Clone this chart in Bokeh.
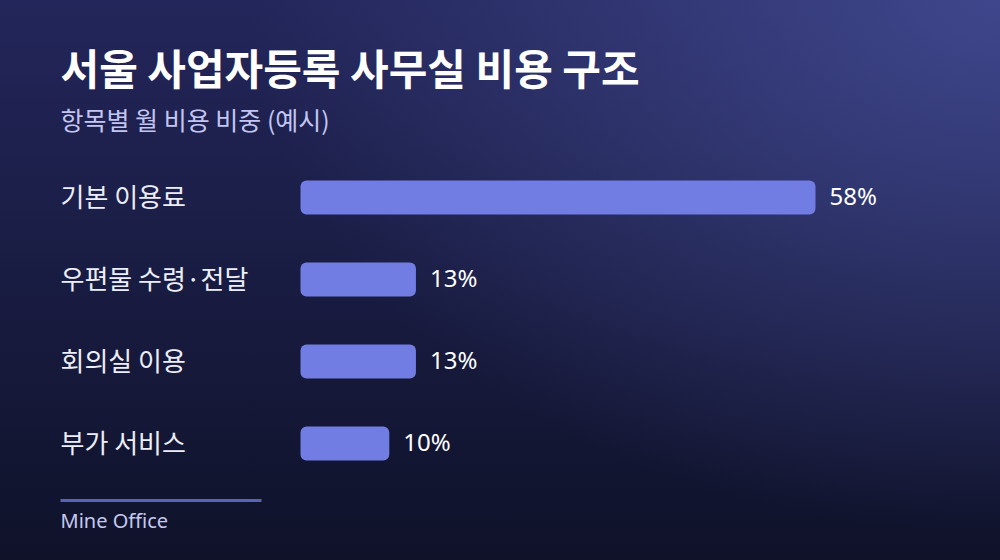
from bokeh.plotting import figure
from bokeh.models import Range1d, Label, BoxAnnotation, ColumnDataSource
from bokeh.core.properties import value
from bokeh.embed import file_html
from bokeh.resources import INLINE

# ---- data ----
categories = ["기본 이용료", "우편물 수령·전달", "회의실 이용", "부가 서비스"]
shares = [58, 13, 13, 10]
value_labels = ["58%", "13%", "13%", "10%"]
title_text = "서울 사업자등록 사무실 비용 구조"
subtitle_text = "항목별 월 비용 비중 (예시)"
source_text = "Mine Office"

# ---- layout ----
W, H = 984, 544
FONT = "Noto Sans CJK KR"
LATIN = "Noto Sans"
PX_PER_PCT = 515 / 58.0
BAR_LEFT_PX = 300
ROW_PX = 82
FIRST_ROW_PX = 197  # from top
LEFT_PX = 60

x_start = -BAR_LEFT_PX / PX_PER_PCT
x_end = (W - BAR_LEFT_PX) / PX_PER_PCT
y_top = -FIRST_ROW_PX / ROW_PX
y_bottom = (H - FIRST_ROW_PX) / ROW_PX

p = figure(width=W, height=H, output_backend="svg", toolbar_location=None,
           x_range=Range1d(x_start, x_end), y_range=Range1d(y_bottom, y_top),
           min_border=0)
p.axis.visible = False
p.grid.visible = False
p.outline_line_color = None
p.background_fill_alpha = 0
p.border_fill_alpha = 0

src = ColumnDataSource(dict(
    y=list(range(len(categories))),
    cat=categories,
    v=shares,
    lab=value_labels,
))

p.hbar(y="y", left=0, right="v", height=34 / ROW_PX, source=src,
       fill_color="#717de3", line_color=None, border_radius=6)

p.text(x=0, y="y", text="cat", source=src, x_offset=LEFT_PX - BAR_LEFT_PX, y_offset=-2,
       text_font=value(FONT), text_font_size="26px", text_color="#eceef8",
       text_baseline="middle", text_align="left")

p.text(x="v", y="y", text="lab", source=src, x_offset=14, y_offset=-2,
       text_font=value(LATIN), text_font_size="24px", text_color="#ffffff",
       text_baseline="middle", text_align="left")

p.add_layout(Label(x=LEFT_PX, y=H - 66, x_units="screen", y_units="screen",
                   text=title_text, text_font=FONT, text_font_size="42px",
                   text_font_style="bold", text_color="#ffffff",
                   text_baseline="middle", text_align="left"))
p.add_layout(Label(x=LEFT_PX, y=H - 118, x_units="screen", y_units="screen",
                   text=subtitle_text, text_font=FONT, text_font_size="25px",
                   text_color="#c3c6f2", text_baseline="middle", text_align="left"))
p.add_layout(BoxAnnotation(left=LEFT_PX, right=261, bottom=H - 501.5, top=H - 498.5,
                           left_units="screen", right_units="screen",
                           bottom_units="screen", top_units="screen",
                           fill_color="#5b60b8", fill_alpha=1, line_color=None))
p.add_layout(Label(x=LEFT_PX, y=H - 520, x_units="screen", y_units="screen",
                   text=source_text, text_font=LATIN, text_font_size="20px",
                   text_color="#c5c9f0", text_baseline="middle", text_align="left"))

html = file_html(p, INLINE)
style = ("<style>html{height:100%;background:"
         "radial-gradient(ellipse 75% 95% at 100% 0%, rgba(66,74,145,0.9) 0%, rgba(66,74,145,0) 100%),"
         "linear-gradient(180deg, #23265a 0%, #0f1229 100%);}"
         "body{background:transparent;}</style>")
html = html.replace("</head>", style + "</head>", 1)
open("out.html", "w").write(html)
